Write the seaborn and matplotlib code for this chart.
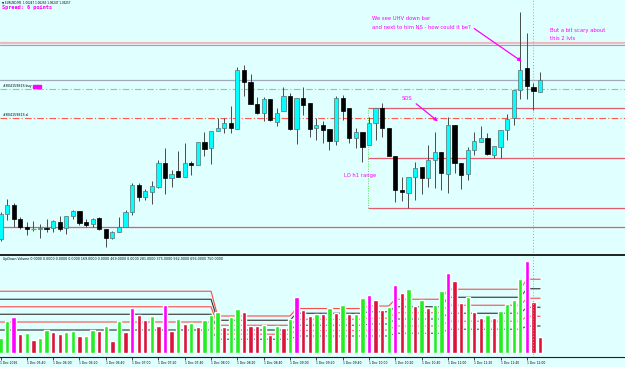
import numpy as np
import pandas as pd
import matplotlib
matplotlib.use("Agg")
import matplotlib.pyplot as plt
from matplotlib.patches import Rectangle
import seaborn as sns

# ---------------- data (EURUSD M5, prices in points above BASE) ----------------
BASE = 1.05907
POINT = 0.00002

opens  = [16, 41, 50, 36, 28, 26, 26, 27, 27, 33, 27, 39, 44, 33, 31, 37, 26, 17, 23, 28,
          43, 70, 58, 63, 68, 92, 77, 84, 78, 92, 90, 113, 107, 124, 127, 132, 126, 185, 173, 151,
          142, 156, 133, 144, 159, 126, 157, 152, 127, 130, 126, 114, 157, 147, 117, 123, 110, 132, 147, 127,
          99, 65, 62, 78, 88, 77, 95, 103, 81, 130, 92, 81, 105, 113, 117, 100, 108, 125, 137, 165,
          187, 168, 163]
highs  = [43, 56, 52, 38, 33, 34, 31, 36, 35, 39, 39, 45, 44, 36, 37, 38, 26, 24, 38, 45,
          72, 72, 66, 74, 95, 107, 85, 104, 112, 94, 113, 123, 124, 137, 137, 149, 188, 190, 181, 158,
          158, 156, 147, 168, 162, 157, 168, 152, 137, 134, 126, 159, 160, 147, 127, 123, 138, 147, 152, 127,
          99, 78, 78, 93, 88, 110, 123, 103, 138, 130, 92, 108, 123, 129, 122, 109, 125, 141, 165, 243,
          222, 172, 183]
lows   = [14, 35, 28, 26, 20, 24, 17, 23, 23, 24, 21, 36, 30, 28, 28, 25, 8, 16, 23, 28,
          40, 54, 55, 51, 67, 61, 68, 78, 78, 80, 90, 99, 91, 124, 122, 122, 126, 159, 151, 141,
          134, 134, 129, 144, 125, 111, 140, 118, 115, 112, 105, 110, 135, 112, 107, 93, 110, 115, 118, 99,
          53, 54, 47, 55, 61, 68, 67, 65, 62, 82, 66, 75, 100, 113, 100, 97, 97, 115, 130, 156,
          156, 145, 163]
closes = [41, 50, 36, 28, 26, 26, 27, 26, 34, 26, 39, 44, 32, 30, 36, 26, 17, 23, 28, 43,
          70, 58, 64, 69, 92, 77, 81, 78, 92, 90, 113, 106, 124, 127, 132, 127, 185, 173, 151, 142,
          156, 135, 142, 159, 126, 157, 150, 126, 130, 125, 114, 157, 144, 117, 123, 108, 132, 147, 127, 99,
          65, 63, 78, 87, 77, 95, 103, 82, 130, 92, 80, 105, 114, 117, 101, 109, 125, 136, 165, 185,
          169, 164, 175]

volumes = [122, 258, 288, 152, 160, 104, 122, 184, 168, 152, 168, 178, 136, 138, 184, 176, 216, 96, 258, 170,
           360, 306, 264, 296, 218, 384, 176, 272, 234, 242, 208, 264, 304, 328, 208, 288, 352, 328, 216, 216,
           224, 146, 218, 202, 272, 450, 344, 298, 312, 312, 360, 322, 384, 312, 312, 440, 464, 424, 344, 368,
           544, 480, 512, 376, 424, 362, 384, 498, 640, 576, 400, 448, 328, 280, 304, 280, 336, 394, 426, 592,
           736, 410, 130]
volume_kind = list("ggmrgrggrr" "ggrggrgrgr" "mrrgrmrgrg" "rgggrggrrr" "grgrgmrrgr"
                   "grgrggmrrg" "mrgrgrggmr" "rgrrgrgggg" "mrr")

time_labels = ["1 Dec 2016", "1 Dec 05:40", "1 Dec 06:00", "1 Dec 06:20", "1 Dec 06:40",
               "1 Dec 07:00", "1 Dec 07:20", "1 Dec 07:40", "1 Dec 08:00", "1 Dec 08:20",
               "1 Dec 08:40", "1 Dec 09:00", "1 Dec 09:20", "1 Dec 09:40", "1 Dec 10:00",
               "1 Dec 10:20", "1 Dec 10:40", "1 Dec 11:00", "1 Dec 11:20", "1 Dec 11:40",
               "1 Dec 12:00"]
label_step = 4

# volume level lines (stepped), per segment of bars
seg_start = [0, 33, 45, 56, 60, 68, 80]
seg_end   = [32, 44, 55, 59, 67, 79, 82]
vol_levels = [
    [494, 296, 356, 376, 430, 510, 590],
    [430, 262, 318, 330, 370, 446, 514],
    [370, 222, 270, 278, 322, 382, 438],
    [310, 184, 222, 232, 272, 318, 366],
    [248, 150, 180, 184, 216, 254, 294],
    [184, 110, 136, 136, 158, 190, 216],
]
vol_level_colors = ["#ff4a4a", "#303030", "#ff4a4a", "#303030", "#ff4a4a", "#303030"]

# horizontal price levels (points)
lvl_pink_hi = 212.5
lvl_pink_lo = 210
lvl_gray = 175
lvl_buy = 166
lvl_sl = 137.5
range_top, range_mid, range_bot = 147, 97, 47
range_start_bar = 56
lvl_support = 28
cursor_bar = 81

# ---------------- figure ----------------
sns.set_theme(style="white")
plt.rcParams["font.family"] = ["DejaVu Sans"]
BG = "#e0ffff"
W, H = 625, 367
fig = plt.figure(figsize=(W / 100, H / 100), dpi=100, facecolor=BG)

PX_BAR = 6.58
xlim = (-0.5 / PX_BAR, (W - 0.5) / PX_BAR)

def P(v):
    return BASE + np.asarray(v, dtype=float) * POINT

ax = fig.add_axes([0, (H - 255) / H, 1, 255 / H])
axv = fig.add_axes([0, (H - 357) / H, 1, 102 / H])
for a in (ax, axv):
    a.set_facecolor(BG)

# ---- main candles ----
n = len(opens)
x = np.arange(n)
o, hi, lo, c = P(opens), P(highs), P(lows), P(closes)
up = c > o
dn = c < o
fl = c == o
ax.vlines(x, lo, hi, color="#4a4a4a", lw=0.7, zorder=3)
ax.bar(x[up], (c - o)[up], bottom=o[up], width=0.64, color="#00ffff",
       edgecolor="#5f7070", linewidth=0.5, zorder=4)
ax.bar(x[dn], (o - c)[dn], bottom=c[dn], width=0.64, color="black",
       edgecolor="black", linewidth=0.5, zorder=4)
ax.hlines(c[fl], x[fl] - 0.35, x[fl] + 0.35, color="#22dd22", lw=0.9, zorder=4)

# ---- horizontal levels ----
ax.axhline(P(lvl_pink_hi), color="#f2b8c2", lw=1.6, zorder=1)
ax.axhline(P(lvl_pink_lo), color="#c8909a", lw=0.8, zorder=1)
ax.axhline(P(lvl_gray), color="#a0aabb", lw=0.9, zorder=1)
ax.axhline(P(lvl_buy), color="#7fd47f", lw=0.8, ls=(0, (6, 2, 1, 2)), zorder=1)
ax.axhline(P(lvl_sl), color="#ff5a50", lw=0.8, ls=(0, (6, 2, 1, 2)), zorder=1)
ax.axhline(P(lvl_support), color="#e65a6e", lw=0.9, zorder=1)
for lv in (range_top, range_mid, range_bot):
    ax.hlines(P(lv), range_start_bar - 0.15, xlim[1], color="#e65a6e", lw=0.9, zorder=1)
ax.vlines(range_start_bar - 0.15, P(range_bot), P(range_top), color="#55dd55",
          lw=0.7, ls=(0, (1, 1.5)), zorder=2)
ax.axvline(cursor_bar, color="#6ab4dc", lw=0.7, ls=(0, (1, 2)), zorder=2)

# ---- annotations ----
mag = "#ff00ff"
ax.text(56.5, P(237), "We see UHV down bar", color=mag, fontsize=3.8, va="center")
ax.text(56.5, P(228), "and next to him NS - how could it be?", color=mag, fontsize=3.8, va="center")
ax.annotate("", xy=(79.56, P(192)), xytext=(71.65, P(228)),
            arrowprops=dict(arrowstyle="-|>", color=mag, lw=0.9, mutation_scale=5))
ax.text(83.5, P(225), "But a bit scary about", color=mag, fontsize=3.8, va="center")
ax.text(83.5, P(217), "this 2 lvls", color=mag, fontsize=3.8, va="center")
ax.text(61.0, P(156), "SOS", color=mag, fontsize=3.8, va="center")
ax.annotate("", xy=(66.8, P(132)), xytext=(62.84, P(153)),
            arrowprops=dict(arrowstyle="-|>", color=mag, lw=0.9, mutation_scale=5))
ax.text(52.2, P(79), "LO h1 range", color=mag, fontsize=3.8, va="center")

ax.text(0.38, P(169), "#80415981S buy", color="black", fontsize=2.3, va="center")
ax.add_patch(Rectangle((4.94, P(167)), 1.22, 3 * POINT, color=mag, zorder=5))
ax.text(0.38, P(140), "#80415981S sl", color="black", fontsize=2.3, va="center")

ax.set_xlim(*xlim)
ax.set_ylim(P(0), P(255))
ax.set_xticks([])
ax.set_yticks([])
for s in ax.spines.values():
    s.set_visible(False)

fig.text(2 / W, 1 - 2.2 / H, "\u25bc EURUSD,M5  1.06247 1.06263 1.06247 1.06257",
         fontsize=2.0, va="center", color="black")
fig.text(2 / W, 1 - 7 / H, "Spread: 6 points", fontsize=3.8, va="center",
         color=mag, fontweight="bold", family="DejaVu Sans Mono")

# ---- volume panel ----
kind_name = {"g": "up", "r": "down", "m": "climax"}
df = pd.DataFrame({"bar": x, "volume": volumes,
                   "kind": [kind_name[k] for k in volume_kind]})
sns.barplot(data=df, x="bar", y="volume", hue="kind",
            palette={"up": "#22ee22", "down": "#dc143c", "climax": "#ff00ff"},
            dodge=False, width=0.66, saturation=1, legend=False, ax=axv)
for patch in axv.patches:
    patch.set_zorder(3)

for vals, col in zip(vol_levels, vol_level_colors):
    xs, ys = [], []
    for k, (s0, s1) in enumerate(zip(seg_start, seg_end)):
        xs += [s0 if k > 0 else xlim[0], s1]
        ys += [vals[k], vals[k]]
    axv.plot(xs, ys, color=col, lw=0.8, zorder=2)

axv.axvline(cursor_bar, color="#6ab4dc", lw=0.7, ls=(0, (1, 2)), zorder=4)
axv.text(0.38, 752, "UpDown Volume 0.0000 0.0000 0.0000 0.0000 169.0000 0.0000 469.0000 "
         "0.0000 281.0000 375.0000 562.0000 656.0000 750.0000",
         fontsize=2.3, va="center", color="black")

axv.set_xlim(*xlim)
axv.set_ylim(-32, 784)
axv.set_yticks([])
axv.set_xlabel("")
axv.set_ylabel("")
ticks = np.arange(0, n, label_step)[:len(time_labels)]
axv.set_xticks(ticks)
axv.set_xticklabels(time_labels)
for lbl in axv.get_xticklabels():
    lbl.set_ha("left")
axv.tick_params(axis="x", length=2, width=0.5, pad=1.2, labelsize=2.2,
                colors="black", bottom=True)
for side in ("left", "right"):
    axv.spines[side].set_visible(False)
axv.spines["top"].set_color("#202020")
axv.spines["top"].set_linewidth(1.4)
axv.spines["bottom"].set_color("#202020")
axv.spines["bottom"].set_linewidth(0.8)

fig.savefig("out.png", dpi=100, facecolor=BG)
